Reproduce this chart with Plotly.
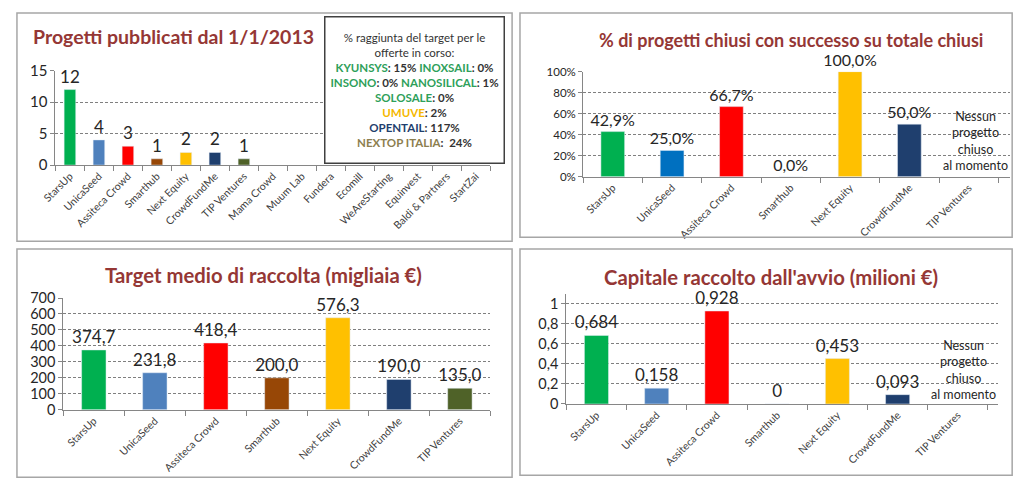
import plotly.graph_objects as go

# ---------------- data ----------------
platforms_all = ["StarsUp", "UnicaSeed", "Assiteca Crowd", "Smarthub", "Next Equity",
                 "CrowdFundMe", "TIP Ventures", "Mama Crowd", "Muum Lab", "Fundera",
                 "Ecomill", "WeAreStarting", "Equinvest", "Baldi & Partners", "StartZai"]
progetti_pubblicati = [12, 4, 3, 1, 2, 2, 1, None, None, None, None, None, None, None, None]

platforms = ["StarsUp", "UnicaSeed", "Assiteca Crowd", "Smarthub", "Next Equity",
             "CrowdFundMe", "TIP Ventures"]
successo_pct = [0.429, 0.25, 0.667, 0.0, 1.0, 0.5, None]
target_medio = [374.7, 231.8, 418.4, 200.0, 576.3, 190.0, 135.0]
capitale_raccolto = [0.684, 0.158, 0.928, 0.0, 0.453, 0.093, None]

colors_main = ["#00B050", "#4F81BD", "#FF0000", "#974706", "#FFC000", "#1F3F6E", "#4F6228"]
colors_pct = ["#00B050", "#0070C0", "#FF0000", "#974706", "#FFC000", "#1F3F6E", "#4F6228"]
colors_all = colors_main + ["#888888"] * 8

titles = ["Progetti pubblicati dal 1/1/2013",
          "% di progetti chiusi con successo su totale chiusi",
          "Target medio di raccolta (migliaia €)",
          "Capitale raccolto dall'avvio (milioni €)"]

FONT = "Lato"
TITLE_COLOR = "#953735"
TXT = "#262626"


def it(v, dec):
    return f"{v:.{dec}f}".replace(".", ",")


lab_prog = ["" if v is None else str(v) for v in progetti_pubblicati]
lab_pct = ["" if v is None else it(v * 100, 1) + "%" for v in successo_pct]
lab_target = [it(v, 1) for v in target_medio]
lab_cap = ["" if v is None else ("0" if v == 0 else it(v, 3)) for v in capitale_raccolto]

W, H = 1024, 490


def px_x(p):
    return p / W


def px_y(p):
    return 1 - p / H


fig = go.Figure()

bar_common = dict(width=0.4, textposition="outside", cliponaxis=False, constraintext="none",
                  showlegend=False, hoverinfo="x+y")

fig.add_trace(go.Bar(x=platforms_all, y=progetti_pubblicati, text=lab_prog,
                     marker_color=colors_all, xaxis="x", yaxis="y",
                     textfont=dict(family=FONT, size=17, color=TXT), **bar_common))
fig.add_trace(go.Bar(x=platforms, y=successo_pct, text=lab_pct,
                     marker_color=colors_pct, xaxis="x2", yaxis="y2",
                     textfont=dict(family=FONT, size=16, color=TXT), **bar_common))
fig.add_trace(go.Bar(x=platforms, y=target_medio, text=lab_target,
                     marker_color=colors_main, xaxis="x3", yaxis="y3",
                     textfont=dict(family=FONT, size=17, color=TXT), **bar_common))
fig.add_trace(go.Bar(x=platforms, y=capitale_raccolto, text=lab_cap,
                     marker_color=colors_main, xaxis="x4", yaxis="y4",
                     textfont=dict(family=FONT, size=17, color=TXT), **bar_common))

xcommon = dict(type="category", showline=True, linecolor="#868686", linewidth=1,
               ticks="outside", tickson="boundaries", ticklen=5, tickcolor="#868686",
               tickangle=-45, tickfont=dict(family=FONT, size=10.5, color="#404040"),
               showgrid=False, fixedrange=True)
ycommon = dict(showline=True, linecolor="#868686", linewidth=1, ticks="outside",
               ticklen=4, tickcolor="#868686", showgrid=True, gridcolor="#7F7F7F",
               griddash="3px,2px", gridwidth=1, zeroline=False, fixedrange=True)

fig.update_layout(
    width=W, height=H, margin=dict(l=0, r=0, t=0, b=0),
    paper_bgcolor="white", plot_bgcolor="white", bargap=0.6,
    xaxis=dict(domain=[px_x(42), px_x(483)], anchor="y", **xcommon),
    yaxis=dict(domain=[px_y(161), px_y(63)], anchor="x", range=[0, 15],
               tickvals=[0, 5, 10, 15], tickfont=dict(family=FONT, size=15, color=TXT),
               **ycommon),
    xaxis2=dict(domain=[px_x(577), px_x(1010)], anchor="y2", **xcommon),
    yaxis2=dict(domain=[px_y(173), px_y(64)], anchor="x2", range=[0, 1],
                tickvals=[0, 0.2, 0.4, 0.6, 0.8, 1.0],
                ticktext=["0%", "20%", "40%", "60%", "80%", "100%"],
                tickfont=dict(family=FONT, size=11.5, color=TXT), **ycommon),
    xaxis3=dict(domain=[px_x(50), px_x(483)], anchor="y3", **xcommon),
    yaxis3=dict(domain=[px_y(415), px_y(299)], anchor="x3", range=[0, 700],
                tickvals=[0, 100, 200, 300, 400, 500, 600, 700],
                tickfont=dict(family=FONT, size=14.5, color=TXT), **ycommon),
    xaxis4=dict(domain=[px_x(560), px_x(998)], anchor="y4", **xcommon),
    yaxis4=dict(domain=[px_y(409), px_y(295)], anchor="x4", range=[0, 1.096],
                tickvals=[0, 0.2, 0.4, 0.6, 0.8, 1.0],
                ticktext=["0", "0,2", "0,4", "0,6", "0,8", "1"],
                tickfont=dict(family=FONT, size=14.5, color=TXT), **ycommon),
)

# panel borders
for (x0, y0, x1, y1) in [(3, 3, 505, 240), (513, 3, 1012, 236),
                         (3, 248, 505, 485), (513, 248, 1012, 483)]:
    fig.add_shape(type="rect", xref="paper", yref="paper",
                  x0=px_x(x0), x1=px_x(x1), y0=px_y(y1), y1=px_y(y0),
                  line=dict(color="#A6A6A6", width=1.5), fillcolor="rgba(0,0,0,0)")

# titles
for text, cx, cy, size in [(titles[0], 162, 28, 19.5), (titles[1], 788, 31, 18.0),
                           (titles[2], 253, 275, 20.3), (titles[3], 767, 277, 20.3)]:
    fig.add_annotation(text=f"<b>{text}</b>", xref="paper", yref="paper",
                       x=px_x(cx), y=px_y(cy), xanchor="center", yanchor="middle",
                       showarrow=False, font=dict(family=FONT, size=size, color=TITLE_COLOR))

# info box (top-left)
G = "#2EA05A"
box_lines = [
    "% raggiunta del target per le",
    "offerte in corso:",
    f"<b><span style='color:{G}'>KYUNSYS</span>: 15% <span style='color:{G}'>INOXSAIL</span>: 0%</b>",
    f"<b><span style='color:{G}'>INSONO</span>: 0% <span style='color:{G}'>NANOSILICAL</span>: 1%</b>",
    f"<b><span style='color:{G}'>SOLOSALE</span>: 0%</b>",
    "<b><span style='color:#F5B800'>UMUVE</span>: 2%</b>",
    "<b><span style='color:#1F3F6E'>OPENTAIL</span>: 117%</b>",
    "<b><span style='color:#8C7E4E'>NEXTOP ITALIA</span>:  24%</b>",
]
fig.add_annotation(text="<br>".join(box_lines), xref="paper", yref="paper",
                   x=px_x(406), y=px_y(83), xanchor="center", yanchor="middle",
                   showarrow=False, align="center", width=174, height=141,
                   bordercolor="#404040", borderwidth=1.5, borderpad=2, bgcolor="white",
                   font=dict(family=FONT, size=11.5, color="#333333"))

# "Nessun progetto chiuso al momento" notes
note = "Nessun<br>progetto<br>chiuso<br>al momento"
fig.add_annotation(text=note, xref="x2", yref="y2", x="TIP Ventures", y=0.34,
                   xshift=7, showarrow=False, align="center",
                   font=dict(family=FONT, size=12.5, color="#262626"))
fig.add_annotation(text=note, xref="x4", yref="y4", x="TIP Ventures", y=0.34,
                   xshift=6, showarrow=False, align="center",
                   font=dict(family=FONT, size=12.5, color="#262626"))

fig.write_html("out.html", config={"displayModeBar": False},
               post_script="document.body.style.margin='0';document.body.style.overflow='hidden';")
